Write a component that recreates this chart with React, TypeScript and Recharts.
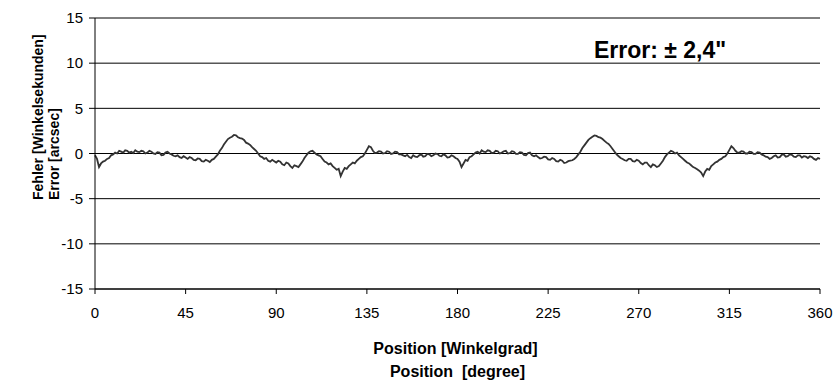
import React from 'react'
import { LineChart, Line, XAxis, YAxis, CartesianGrid } from 'recharts'

// error reading for every degree
const STEP = 1
const errorValues = [
  -0.2, -0.6, -1.5, -1.1, -0.9, -0.8, -0.6, -0.5, -0.2, -0.1,
  0.1, 0.0, 0.3, 0.2, 0.1, 0.35, 0.3, 0.1, 0.2, 0.05,
  0.35, 0.2, 0.15, 0.3, 0.25, 0.0, 0.1, 0.3, 0.2, 0.0,
  -0.05, 0.15, 0.1, -0.2, -0.15, 0.1, 0.2, 0.0, -0.1, -0.25,
  -0.3, -0.2, -0.4, -0.5, -0.3, -0.45, -0.6, -0.4, -0.5, -0.7,
  -0.75, -0.55, -0.6, -0.85, -0.9, -0.7, -0.8, -0.95, -0.7, -0.6,
  -0.35, -0.1, 0.3, 0.6, 1.0, 1.3, 1.6, 1.75, 1.85, 2.05,
  2.0, 1.8, 1.7, 1.65, 1.5, 1.2, 1.1, 0.95, 0.7, 0.5,
  0.3, 0.0, -0.3, -0.4, -0.6, -0.5, -0.8, -0.9, -0.7, -0.85,
  -1.0, -0.8, -0.9, -1.2, -1.3, -1.0, -1.1, -1.4, -1.6, -1.3,
  -1.4, -1.5, -1.2, -0.9, -0.5, -0.2, 0.1, 0.25, 0.3, 0.1,
  -0.1, -0.2, -0.3, -0.6, -0.9, -1.0, -1.2, -1.1, -1.4, -1.6,
  -1.8, -1.7, -2.5, -2.0, -1.6, -1.7, -1.4, -1.2, -1.0, -1.1,
  -0.8, -0.6, -0.4, -0.3, 0.0, 0.4, 0.8, 0.7, 0.3, 0.05,
  0.1, 0.25, 0.2, 0.0, 0.05, 0.25, 0.2, -0.05, 0.0, 0.2,
  0.15, -0.1, -0.1, -0.2, -0.3, -0.15, -0.4, -0.5, -0.2, -0.35,
  -0.4, -0.2, -0.1, -0.35, -0.3, -0.05, -0.1, -0.3, -0.2, 0.0,
  -0.05, -0.25, -0.3, -0.1, -0.2, -0.45, -0.4, -0.2, -0.3, -0.5,
  -0.6, -0.9, -1.5, -1.1, -0.7, -0.8, -0.4, -0.3, -0.1, 0.1,
  0.2, 0.0, 0.35, 0.2, 0.15, 0.35, 0.3, 0.05, 0.1, 0.3,
  0.25, 0.0, 0.1, 0.25, 0.3, 0.0, 0.05, 0.25, 0.2, -0.05,
  -0.05, 0.15, 0.1, -0.15, -0.2, 0.05, 0.1, -0.2, -0.3, -0.2,
  -0.4, -0.55, -0.5, -0.35, -0.4, -0.65, -0.7, -0.5, -0.6, -0.85,
  -0.9, -0.7, -0.8, -1.05, -1.0, -0.85, -0.8, -0.75, -0.6, -0.4,
  -0.1, 0.2, 0.6, 0.9, 1.2, 1.5, 1.7, 1.85, 2.0, 1.95,
  1.8, 1.75, 1.6, 1.4, 1.2, 1.05, 0.8, 0.5, 0.2, -0.1,
  -0.3, -0.5, -0.6, -0.75, -0.8, -0.6, -0.6, -0.85, -0.9, -0.7,
  -0.8, -1.05, -1.2, -1.0, -1.0, -1.3, -1.5, -1.2, -1.3, -1.5,
  -1.4, -1.1, -0.8, -0.4, -0.1, 0.1, 0.3, 0.2, 0.0, 0.1,
  -0.2, -0.4, -0.6, -0.8, -1.0, -1.1, -1.3, -1.5, -1.6, -1.75,
  -1.9, -2.1, -2.5, -2.0, -1.7, -1.8, -1.4, -1.2, -1.0, -0.9,
  -0.7, -0.6, -0.4, -0.3, 0.0, 0.4, 0.8, 0.6, 0.3, 0.1,
  0.1, 0.25, 0.2, 0.0, 0.0, 0.2, 0.15, -0.05, -0.05, 0.15,
  0.1, -0.1, -0.2, -0.35, -0.4, -0.6, -0.5, -0.3, -0.2, -0.45,
  -0.4, -0.15, -0.1, -0.35, -0.3, -0.1, -0.15, -0.35, -0.4, -0.2,
  -0.2, -0.45, -0.3, -0.35, -0.5, -0.3, -0.4, -0.6, -0.7, -0.5,
  -0.6,
]
const xTicks = [0, 45, 90, 135, 180, 225, 270, 315, 360]
const yTicks = [-15, -10, -5, 0, 5, 10, 15]

const data = errorValues.map((v, i) => ({ pos: i * STEP, err: v }))

const font = '"Liberation Sans", Arial, sans-serif'

const YTitle = (props: any) => {
  const vb = props.viewBox
  const y = vb.y + 182
  return (
    <g fontFamily={font} fontWeight="bold" fontSize={14} fill="#000">
      <text x={43} y={y} transform={`rotate(-90 43 ${y})`} textAnchor="start">Fehler [Winkelsekunden]</text>
      <text x={59} y={y} transform={`rotate(-90 59 ${y})`} textAnchor="start">Error [arcsec]</text>
    </g>
  )
}

const XTitle = (props: any) => {
  const vb = props.viewBox
  const cx = vb.x + vb.width / 2
  return (
    <g fontFamily={font} fontWeight="bold" fontSize={16} fill="#000">
      <text x={cx - 2} y={354} textAnchor="middle">Position [Winkelgrad]</text>
      <text x={cx} y={377} textAnchor="middle" style={{ whiteSpace: 'pre' }}>Position  [degree]</text>
    </g>
  )
}

export default function App() {
  return (
    <div style={{ position: 'absolute', left: 0, top: 0, width: 833, height: 380, background: '#fff' }}>
      <LineChart width={833} height={380} data={data} margin={{ top: 18, right: 13, bottom: 61, left: 45 }}>
        <CartesianGrid vertical={false} stroke="#000" strokeWidth={1} />
        <XAxis
          dataKey="pos"
          type="number"
          domain={[0, 360]}
          ticks={xTicks}
          interval={0}
          stroke="#000"
          tickSize={5}
          tickMargin={13}
          height={30}
          tick={{ fill: '#000', fontSize: 15, fontFamily: font }}
          label={<XTitle />}
        />
        <YAxis
          type="number"
          domain={[-15, 15]}
          ticks={yTicks}
          interval={0}
          width={50}
          stroke="#000"
          tickSize={6}
          tickMargin={6}
          tick={{ fill: '#000', fontSize: 15, fontFamily: font }}
          label={<YTitle />}
        />
        <Line
          dataKey="err"
          type="linear"
          stroke="#333"
          strokeWidth={1.8}
          dot={false}
          isAnimationActive={false}
        />
      </LineChart>
      <svg
        width={833}
        height={380}
        style={{ position: 'absolute', left: 0, top: 0, pointerEvents: 'none' }}
      >
        <text
          x={660}
          y={58}
          textAnchor="middle"
          fontFamily={font}
          fontWeight="bold"
          fontSize={23}
          fill="#000"
          style={{ whiteSpace: 'pre' }}
        >
          Error: ± 2,4"
        </text>
      </svg>
    </div>
  )
}
